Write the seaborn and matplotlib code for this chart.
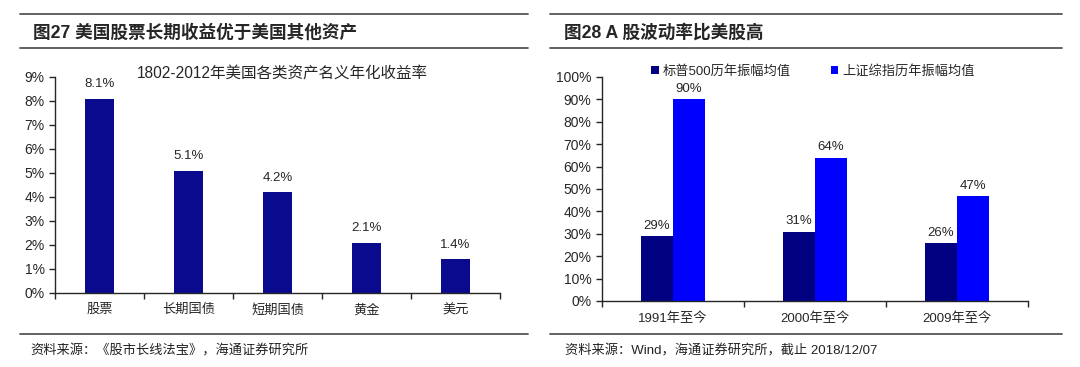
import pandas as pd
import matplotlib.pyplot as plt
import seaborn as sns
from matplotlib.lines import Line2D
from matplotlib.patches import Patch
from matplotlib.ticker import FixedLocator, PercentFormatter

# ---- data ----
assets = ['股票', '长期国债', '短期国债', '黄金', '美元']
asset_returns = [0.081, 0.051, 0.042, 0.021, 0.014]

periods = ['1991年至今', '2000年至今', '2009年至今']
sp500_amp = [0.29, 0.31, 0.26]
shci_amp = [0.90, 0.64, 0.47]
series_names = ['标普500历年振幅均值', '上证综指历年振幅均值']

sns.set_style('ticks')
plt.rcParams['font.family'] = ['Liberation Sans', 'Noto Sans CJK SC']
plt.rcParams['axes.linewidth'] = 1.0

W, H = 1080, 367
fig = plt.figure(figsize=(W / 100, H / 100), dpi=100)


def px_axes(x0, x1, ytop, ybot):
    return fig.add_axes([x0 / W, 1 - ybot / H, (x1 - x0) / W, (ybot - ytop) / H])


def hline(x0, x1, y):
    fig.add_artist(Line2D([x0 / W, x1 / W], [1 - y / H, 1 - y / H],
                          color='#555555', lw=1.3, transform=fig.transFigure))


def style_axes(ax, n, ymax, ystep):
    ax.set_xlim(-0.5, n - 0.5)
    ax.set_ylim(0, ymax)
    ax.yaxis.set_major_locator(FixedLocator([i * ystep for i in range(int(round(ymax / ystep)) + 1)]))
    ax.yaxis.set_major_formatter(PercentFormatter(1.0, decimals=0))
    ax.xaxis.set_major_locator(FixedLocator([i - 0.5 for i in range(n + 1)]))
    ax.xaxis.set_minor_locator(FixedLocator(list(range(n))))
    ax.set_xticklabels([''] * (n + 1))
    ax.tick_params(axis='x', which='major', length=4, width=1, direction='out')
    ax.tick_params(axis='x', which='minor', length=0, pad=8, labelsize=9.5)
    ax.tick_params(axis='y', length=4, width=1, direction='out', labelsize=10)
    ax.set_xlabel('')
    ax.set_ylabel('')
    sns.despine(ax=ax)


# ---- left panel ----
hline(20, 528, 14)
hline(20, 528, 48)
hline(20, 528, 334)
fig.text(33 / W, 1 - 33 / H, '图27 美国股票长期收益优于美国其他资产',
         fontsize=12.7, fontweight='bold', va='center', ha='left')
fig.text(30 / W, 1 - 351 / H, '资料来源：《股市长线法宝》，海通证券研究所',
         fontsize=9.5, va='center', ha='left', color='#222222')

ax1 = px_axes(55, 500, 77, 293)
df1 = pd.DataFrame({'asset': assets, 'ret': asset_returns})
sns.barplot(data=df1, x='asset', y='ret', color='#0A0A8E', width=0.32,
            saturation=1, linewidth=0, ax=ax1)
ax1.bar_label(ax1.containers[0], labels=[f'{v * 100:.1f}%' for v in asset_returns],
              padding=6, fontsize=9.5)
style_axes(ax1, len(assets), 0.09, 0.01)
ax1.set_xticklabels(assets, minor=True)
fig.text(282 / W, 1 - 73 / H, '1802-2012年美国各类资产名义年化收益率',
         fontsize=11.2, ha='center', va='center')

# ---- right panel ----
hline(550, 1062, 14)
hline(550, 1062, 48)
hline(550, 1062, 334)
fig.text(564 / W, 1 - 33 / H, '图28 A 股波动率比美股高',
         fontsize=12.7, fontweight='bold', va='center', ha='left')
fig.text(565 / W, 1 - 351 / H, '资料来源：Wind，海通证券研究所，截止 2018/12/07',
         fontsize=9.5, va='center', ha='left', color='#222222')

ax2 = px_axes(602, 1028, 77, 301)
df2 = pd.DataFrame({
    'period': periods * 2,
    'series': [series_names[0]] * 3 + [series_names[1]] * 3,
    'value': sp500_amp + shci_amp,
})
colors = ['#000080', '#0000FF']
sns.barplot(data=df2, x='period', y='value', hue='series', palette=colors,
            width=0.45, gap=0, saturation=1, linewidth=0, ax=ax2, legend=False)
for cont, vals in zip(ax2.containers, [sp500_amp, shci_amp]):
    ax2.bar_label(cont, labels=[f'{v * 100:.0f}%' for v in vals],
                  padding=3, fontsize=9.5)
style_axes(ax2, len(periods), 1.0, 0.1)
ax2.set_xticklabels(periods, minor=True)

handles = [Patch(facecolor=c, edgecolor='none') for c in colors]
fig.legend(handles, series_names, loc='center left',
           bbox_to_anchor=(651 / W, 1 - 71 / H), ncol=2, frameon=False,
           fontsize=9.5, handlelength=0.6, handleheight=0.6, handletextpad=0.3,
           columnspacing=3.0, borderaxespad=0, borderpad=0)

fig.savefig('out.png', dpi=100, facecolor='white')
